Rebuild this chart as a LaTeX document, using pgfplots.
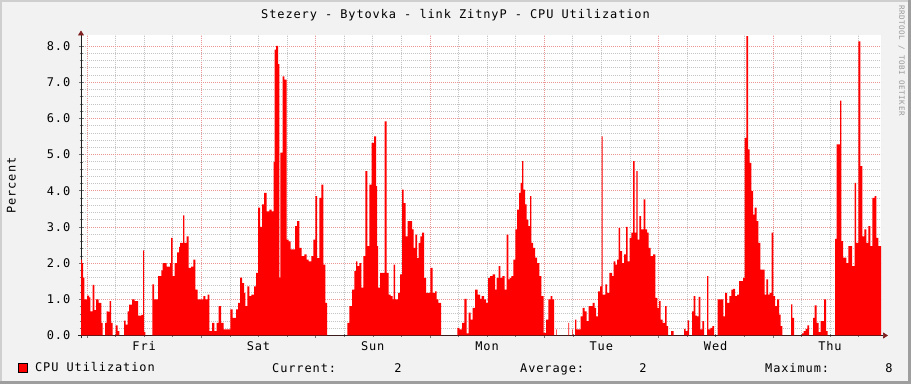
\documentclass[border=0pt]{standalone}
\usepackage{pgfplots}
\pgfplotsset{compat=1.18}
\usepackage{pgfplotstable}
\usepackage{fontspec}
\setmainfont{DejaVu Sans Mono}[LetterSpace=7.5]
\usetikzlibrary{arrows.meta}
\definecolor{bgc}{HTML}{F2F2F2}
\definecolor{shA}{HTML}{CFCFCF}
\definecolor{shB}{HTML}{9E9E9E}
\definecolor{mgridc}{HTML}{EB9696}
\definecolor{gridc}{HTML}{C4C4C4}
\definecolor{arrowc}{HTML}{801F1F}
\definecolor{axisc}{HTML}{1F1F1F}
\pgfplotstableread{
x y
81 2.1
82 2.0
83 1.6
84.3 1.0
87 1.1
89 1.05
90.3 0.67
92.7 1.4
94.3 0.7
96 1.0
98.7 0.9
101.3 0.35
102.7 0
105 0.35
106.7 0.67
108.3 0.65
109.7 0.95
111 0.35
112.7 0
115.7 0.28
117.7 0.12
119.3 0
124 0.41
125.7 0.3
127.7 0.67
129 0.85
132 1.0
134.7 0.95
138 0.55
141.3 0.57
143 2.35
144 0.1
145.3 0
152.3 1.41
154 1.0
158 1.64
161.3 1.8
162.7 2.0
166.7 1.9
170 2.0
171 2.7
172.7 1.64
174.7 2.0
177 2.3
179 2.45
180 2.56
183 3.32
184.3 2.56
186.7 2.74
188.7 1.87
191 1.9
193.3 2.1
195.3 1.27
197.7 1.0
203.3 1.09
205.3 1.0
207.7 1.13
209.3 0.12
212 0.35
214.3 0.12
216.7 0.35
218.7 0.81
221 0.35
223.7 0.17
230.3 0.72
232.7 0.49
236 0.72
238 0.9
240 1.6
242 1.45
244 1.18
245.3 0.81
247.3 1.36
249.3 1.09
251.3 1.13
254 1.36
256 1.73
258 3.53
260 3.0
262 3.62
264 3.94
266.7 3.43
269.3 3.48
271.7 3.43
273.5 4.8
274.7 7.9
276 8.0
278 7.5
279.3 1.6
280.3 5.05
282.7 7.16
284.3 7.07
286.7 2.65
288.7 2.6
290.7 2.38
295 3.02
297 3.16
299.3 2.42
301.7 2.19
304.3 2.24
306.7 2.1
308.7 2.05
311.3 2.19
313.3 2.65
315.3 3.85
317 2.14
319.3 3.8
321.3 4.17
323.3 1.96
325.3 0.9
327 0
347.3 0.35
349.3 0.81
352 1.27
354.3 1.78
356 2.05
357.3 1.92
359.3 2.0
361.3 1.32
363.3 2.19
365.3 4.54
367.3 2.47
369.3 4.17
371.7 5.32
374 5.5
376 4.13
377 2.47
378 1.32
380 1.73
384.7 5.92
386.7 1.73
388.7 1.13
390.7 1.09
392.7 1.0
393.7 1.96
395 1.0
398 1.18
400 1.69
402 4.03
403.7 3.66
405.7 2.74
407.7 3.16
412 2.93
413.7 2.42
415.3 2.79
417 2.14
418.7 2.56
420.3 2.74
422 2.84
424 1.59
426 1.18
430.3 1.87
432.7 1.18
435 1.22
436.7 1.0
438.3 0.9
441 0
457.3 0.21
459.3 0.17
462 0.35
464.3 1.01
466.7 0.06
468.7 0.63
470.7 0.44
472.7 0.76
475 1.27
477.7 1.13
480 1.01
481.7 1.09
484 1.0
486 0.9
488 1.59
490 1.64
492.7 1.69
495 1.27
496.7 1.59
498.7 1.92
500.3 1.59
502.3 1.64
504.7 1.27
506.7 2.79
508.3 1.55
509.7 1.59
511.3 1.64
513.3 2.1
515.3 2.93
517 3.48
519 3.94
520.7 4.22
522 4.82
523.3 4.03
525 3.62
526.7 3.2
528.3 3.02
530 3.85
531.3 2.56
533 2.42
535 2.15
537 2.0
539.3 1.64
541.3 1.09
543.7 0.07
546 0.44
548.3 1.0
550.7 1.09
552.3 1.0
554 0
556 0.17
556.7 0
568.3 0.35
569 0
572 0.17
572.7 0
575 0.44
576.3 0.17
580.7 0.53
582.7 0.76
584.7 0.67
586.7 0.4
588.7 0.81
592.7 0.9
594.7 0.76
596 0.53
598 1.22
600 1.36
601.7 5.5
602.7 1.13
605.3 1.41
607 1.18
609.3 1.73
612 1.64
613.7 2.05
615.3 1.96
617 2.1
618.7 2.97
620 2.33
622 2.0
624 2.24
626 3.0
627.7 2.05
629.7 2.7
631.3 2.84
633 4.82
634.7 2.84
636.3 4.54
637.7 2.65
639.3 3.3
641 2.93
643.7 3.76
645.3 2.93
647 2.84
648.7 2.42
650.7 2.19
653 2.24
655.3 1.04
657.3 0.76
659 0.95
660.7 0.44
662.7 0.35
665 0.81
666.7 0.26
668 0
671 0.12
673.7 0
684 0.18
685.7 0.12
687.7 0.42
689 0
692 0.67
693.7 1.09
695.3 0.55
697 0.53
698.7 1.07
700.3 0.17
702.3 0.4
704 0
707 1.64
708.3 0.17
710.3 0.21
712.3 0.26
714 0
717.7 1.0
723.3 0.53
725 1.18
727 0.9
729.3 1.09
731.3 1.27
733 1.29
735 1.09
737 1.13
739 1.5
743 1.59
744.7 5.46
746.3 8.27
748 5.14
749.7 4.77
751.3 3.99
753 3.34
754.7 3.53
756.7 3.16
758.3 2.56
760.3 1.82
764.7 1.13
766.3 1.55
768 1.13
769.7 1.18
771.7 2.84
773.3 1.09
775 0.81
777 1.0
779 0.58
780.7 0.26
782.3 0
791 0.86
792.3 0.49
794 0
802 0.06
803.7 0.12
805.7 0.18
807.3 0.28
809 0
813 0.49
814.7 0.83
816.7 0.35
818.7 0.09
820.7 0.4
824 1.0
826 0.12
827.7 0
835 2.67
836.7 5.28
840 6.49
841.3 2.61
843 2.15
846.3 2.0
848.3 2.47
852 1.92
854.7 4.22
856 2.56
858.3 8.13
860.3 4.68
862.3 2.74
864.3 2.93
866.3 2.56
868.3 3.02
870.3 2.47
872.3 3.8
874.7 3.85
876.3 2.7
878.3 2.47
881 2.47
}\cpudata
\begin{document}
\begin{tikzpicture}[font=\fontsize{12}{14}\selectfont]
\useasboundingbox (0bp,0bp) rectangle (911bp,384bp);
\fill[bgc] (0bp,0bp) rectangle (911bp,384bp);
\fill[shA] (0bp,0bp) rectangle (2bp,384bp);
\fill[shA] (0bp,382bp) rectangle (911bp,384bp);
\fill[shB] (908bp,0bp) rectangle (911bp,384bp);
\fill[shB] (0bp,0bp) rectangle (911bp,3bp);
\begin{axis}[
  at={(81bp,48.5bp)}, anchor=south west,
  width=800bp, height=300bp, scale only axis,
  xmin=81, xmax=881, ymin=0, ymax=8.29,
  axis background/.style={fill=white},
  axis lines=left,
  axis line style={draw=axisc, line width=0.7bp},
  x axis line style={-{Triangle[length=5bp,width=6bp,color=arrowc]}, shorten >=-7bp, shorten <=-3bp},
  y axis line style={-{Triangle[length=5bp,width=6bp,color=arrowc]}, shorten >=-5bp, shorten <=-3bp},
  /pgf/number format/assume math mode=true,
  xtick={87,201.3,315.6,429.9,544.2,658.5,772.8},
  xticklabels={},
  minor xtick={115.575,144.15,172.725,229.875,258.45,287.025,344.175,372.75,401.325,458.475,487.05,515.625,572.775,601.35,629.925,687.075,715.65,744.225,801.375,829.95,858.525},
  extra x ticks={144.15,258.45,372.75,487.05,601.35,715.65,829.95},
  extra x tick labels={Fri,Sat,Sun,Mon,Tue,Wed,Thu},
  extra x tick style={grid=none, major tick length=0pt},
  xticklabel style={anchor=base, inner sep=0pt, yshift=-15bp},
  ytick={0,1,2,3,4,5,6,7,8},
  minor y tick num=4,
  yticklabel style={/pgf/number format/fixed, /pgf/number format/fixed zerofill, /pgf/number format/precision=1, anchor=east, inner sep=0pt, xshift=-8bp},
  grid=both,
  major grid style={draw=mgridc, line width=0.6bp, dash pattern=on 1bp off 1bp},
  minor grid style={draw=gridc, line width=0.6bp, dash pattern=on 1bp off 1bp},
  tick align=center,
  major tick length=5bp, minor tick length=3bp,
  tick style={draw=black!55, line width=0.5bp},
  legend style={draw=none, fill=none, at={(-0.0795,-0.1083)}, anchor=west, inner sep=0pt, column sep=6bp},
  legend cell align=left,
]
\addplot[const plot, fill=red, draw=none,
  legend image code/.code={\draw[fill=red, draw=black, line width=0.5bp] (0bp,-4.5bp) rectangle (9bp,4.5bp);}]
  table[x=x, y=y] {\cpudata} \closedcycle;
\addlegendentry{CPU Utilization}
\end{axis}
\node[anchor=base] at (455.5bp,365.5bp) {Stezery - Bytovka - link ZitnyP - CPU Utilization};
\node[rotate=90, anchor=base] at (15.5bp,198.5bp) {Percent};
\node[rotate=-90, anchor=base west, text=black!40, font=\fontsize{7.6}{9}\selectfont, inner sep=0pt] at (899bp,379bp) {RRDTOOL / TOBI OETIKER};
\node[anchor=base west, inner sep=0pt] at (272bp,12bp) {Current:};
\node[anchor=base, inner sep=0pt] at (398bp,12bp) {2};
\node[anchor=base west, inner sep=0pt] at (520bp,12bp) {Average:};
\node[anchor=base, inner sep=0pt] at (643bp,12bp) {2};
\node[anchor=base west, inner sep=0pt] at (765bp,12bp) {Maximum:};
\node[anchor=base, inner sep=0pt] at (889bp,12bp) {8};
\end{tikzpicture}
\end{document}
